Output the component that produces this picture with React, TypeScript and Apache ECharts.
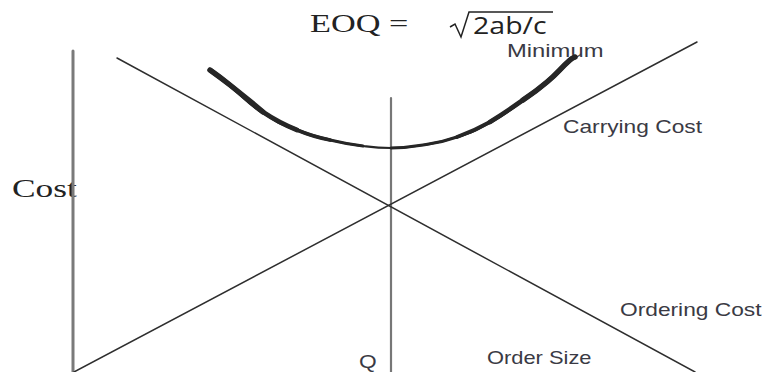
import React, { useEffect, useRef } from "react";
import * as echarts from "echarts";

// Values (x = order size units, y = cost units)
const X_MAX = 765;
const Y_MAX = 372;
const costAxisLine: number[][] = [[73, 0], [73, 321]];
const qMarkerLine: number[][] = [[391, 0], [391, 274]];
const orderingCostLine: number[][] = [[117, 314], [695, 0]];
const carryingCostLine: number[][] = [[74, 0], [697, 330]];
const totalCostCurve: number[][] = [
  [210, 302], [230, 287], [263, 260], [297, 242], [330, 232], [363, 226],
  [391, 224], [423, 227], [457, 235], [490, 250], [523, 272], [547, 290],
  [570, 312], [575, 315],
];

const titleLeft = "EOQ =";
const titleRoot = "2ab/c";
const labels = {
  minimum: "Minimum",
  carrying: "Carrying Cost",
  ordering: "Ordering Cost",
  orderSize: "Order Size",
  q: "Q",
  cost: "Cost",
};

const SANS = "Liberation Sans";
const SERIF = "Liberation Serif";
const TXT = "#3a3a44";
const CURVE = "#262626";

// taper layers: [points kept from the left end, points kept from the right end, width]
const curveLayers: [number, number, number][] = [
  [6, 8, 3],
  [5, 6, 3.8],
  [4, 5, 4.6],
  [3, 4, 5.4],
];

function lineSeries(data: number[][], color: string, width: number, smooth = false) {
  return {
    type: "line",
    data,
    symbol: "none",
    smooth,
    silent: true,
    lineStyle: { color, width, cap: "round", join: "round" },
  };
}

function sansText(text: string, x: number, y: number, sx = 1.3) {
  return {
    type: "text",
    x,
    y,
    scaleX: sx,
    style: { text, font: `17.5px "${SANS}"`, fill: TXT, textAlign: "left", textVerticalAlign: "middle" },
  };
}

export default function App() {
  const ref = useRef<HTMLDivElement>(null);
  useEffect(() => {
    if (!ref.current) return;
    const chart = echarts.init(ref.current, undefined, { renderer: "svg" });
    const n = totalCostCurve.length;
    const taper: any[] = [];
    curveLayers.forEach(([l, r, w]) => {
      taper.push(lineSeries(totalCostCurve.slice(0, l), CURVE, w, true));
      taper.push(lineSeries(totalCostCurve.slice(n - r), CURVE, w, true));
    });
    chart.setOption({
      animation: false,
      backgroundColor: "#ffffff",
      grid: { left: 0, right: 0, top: 0, bottom: 0 },
      xAxis: { type: "value", min: 0, max: X_MAX, show: false },
      yAxis: { type: "value", min: 0, max: Y_MAX, show: false },
      series: [
        lineSeries(costAxisLine, "#7a7a7a", 3),
        lineSeries(qMarkerLine, "#777777", 2.2),
        lineSeries(orderingCostLine, "#2e2e2e", 1.5),
        lineSeries(carryingCostLine, "#2e2e2e", 1.5),
        lineSeries(totalCostCurve, CURVE, 2.2, true),
        ...taper,
      ],
      graphic: [
        {
          type: "text",
          x: 310,
          y: 23,
          scaleX: 1.37,
          style: { text: titleLeft, font: `25px "${SERIF}"`, fill: "#222", textAlign: "left", textVerticalAlign: "middle" },
        },
        {
          type: "polyline",
          shape: { points: [[450, 27], [455, 24], [461, 37], [469, 12], [553, 12]] },
          style: { stroke: "#222", lineWidth: 1.5, fill: null },
        },
        {
          type: "text",
          x: 473,
          y: 25,
          scaleX: 1.24,
          style: { text: titleRoot, font: `23px "Open Sans"`, fill: "#222", textAlign: "left", textVerticalAlign: "middle" },
        },
        sansText(labels.minimum, 507, 51, 1.36),
        sansText(labels.carrying, 563, 127, 1.3),
        sansText(labels.ordering, 620, 310, 1.3),
        sansText(labels.orderSize, 487, 358, 1.25),
        sansText(labels.q, 359, 362, 1.3),
        {
          type: "text",
          x: 12,
          y: 188,
          scaleX: 1.36,
          style: { text: labels.cost, font: `26px "${SERIF}"`, fill: "#222", textAlign: "left", textVerticalAlign: "middle" },
        },
      ],
    });
    return () => chart.dispose();
  }, []);
  return (
    <div
      ref={ref}
      style={{ position: "fixed", left: 0, top: 0, width: 765, height: 372, background: "#fff" }}
    />
  );
}
